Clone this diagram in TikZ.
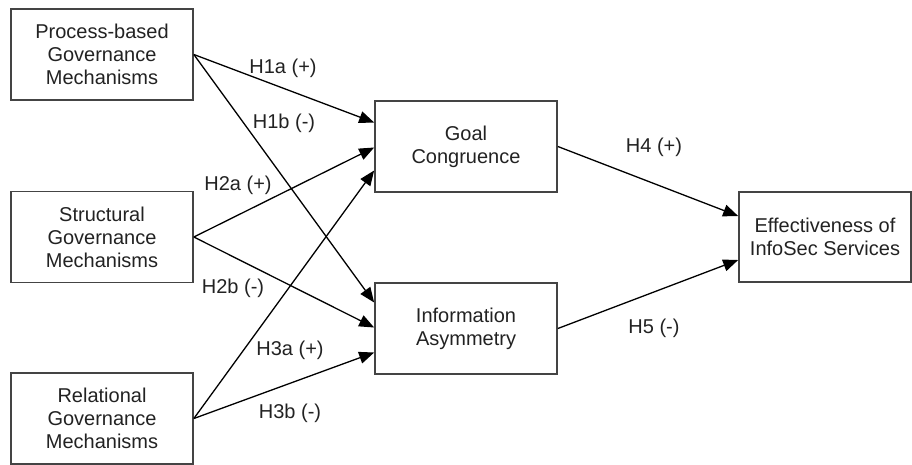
\documentclass[tikz,border=0pt]{standalone}
\usepackage{fontspec}
\setmainfont{Liberation Sans}
\usepackage{tikz}
\usetikzlibrary{arrows.meta, positioning, calc}
\definecolor{boxgray}{HTML}{444444}
\definecolor{inkgray}{HTML}{222222}

\tikzset{
  varbox/.style={draw=boxgray, line width=1.7pt, minimum width=182pt, minimum height=91pt,
    inner sep=0pt, align=center, text=inkgray, font=\fontsize{20}{23}\selectfont},
  hyp/.style={line width=1.3pt, -{Triangle[length=15pt, width=12pt]}},
  hyplabel/.style={text=inkgray, font=\fontsize{20}{23}\selectfont, inner sep=0pt}
}

\begin{document}
\begin{tikzpicture}[x=1pt, y=-1pt]
  \useasboundingbox (0,0) rectangle (912,464);
  % governance mechanisms
  \node[varbox] (proc) at (102,54.5) {Process-based\\Governance\\Mechanisms};
  \node[varbox] (struct) at (102,237) {Structural\\Governance\\Mechanisms};
  \node[varbox] (rel) at (102,418.5) {Relational\\Governance\\Mechanisms};
  % mediators
  \node[varbox] (goal) at (466,146.5) {Goal\\Congruence};
  \node[varbox] (info) at (466,328.5) {Information\\Asymmetry};
  % outcome
  \node[varbox, minimum width=172pt, minimum height=90pt] (eff) at (825,237) {Effectiveness of\\InfoSec Services};

  \draw[hyp] (proc.east) -- ([yshift=24pt]goal.west);
  \draw[hyp] (proc.east) -- ([yshift=26pt]info.west);
  \draw[hyp] (struct.east) -- ([yshift=-1pt]goal.west);
  \draw[hyp] (struct.east) -- ([yshift=1pt]info.west);
  \draw[hyp] (rel.east) -- ([yshift=-24pt]goal.west);
  \draw[hyp] (rel.east) -- ([yshift=-24pt]info.west);
  \draw[hyp] (goal.east) -- ([yshift=21pt]eff.west);
  \draw[hyp] (info.east) -- ([yshift=-23pt]eff.west);

  \node[hyplabel] (h1a) at (283,68) {H1a (+)};
  \node[hyplabel] (h1b) at (284,123) {H1b (-)};
  \node[hyplabel] (h2a) at (238,185) {H2a (+)};
  \node[hyplabel] (h2b) at (233,288) {H2b (-)};
  \node[hyplabel] (h3a) at (290,350) {H3a (+)};
  \node[hyplabel] (h3b) at (290,413) {H3b (-)};
  \node[hyplabel] (h4) at (654,147) {H4 (+)};
  \node[hyplabel] (h5) at (654,328) {H5 (-)};
\end{tikzpicture}
\end{document}
